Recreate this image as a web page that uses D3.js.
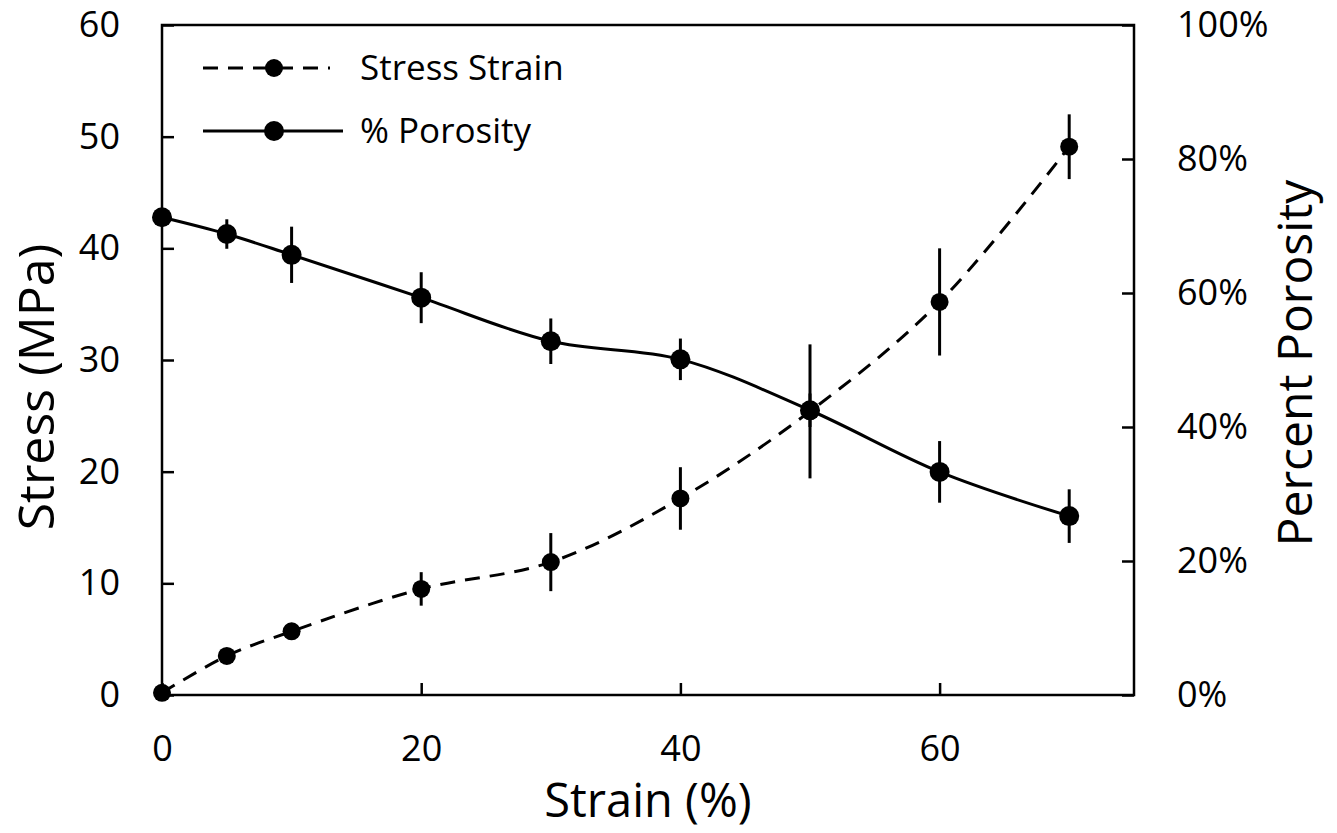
<!DOCTYPE html>
<html>
<head>
<meta charset="utf-8">
<script src="https://cdn.jsdelivr.net/npm/d3@7"></script>
<style>
  body { margin: 0; background: #fff; }
  text { font-family: "Open Sans", sans-serif; fill: #000; }
</style>
</head>
<body>
<div id="chart"></div>
<script>
// data
var strain = [0, 5, 10, 20, 30, 40, 50, 60, 70]
var stress = [0.2, 3.5, 5.7, 9.5, 11.9, 17.6, 25.4, 35.2, 49.1]
var stressErr = [0, 0, 0, 1.5, 2.6, 2.8, 6.0, 4.8, 2.9]
var porosity = [71.3, 68.8, 65.7, 59.3, 52.8, 50.1, 42.5, 33.3, 26.7]
var porosityErr = [0, 2.2, 4.2, 3.8, 3.4, 3.1, 2.5, 4.6, 4.0]

var xTicks = [0, 20, 40, 60]
var stressTicks = [0, 10, 20, 30, 40, 50, 60]
var porosityTicks = [0, 20, 40, 60, 80, 100]

var W = 1337, H = 833
var margin = {top: 25, right: 203, bottom: 138, left: 162}
var width = W - margin.left - margin.right,
    height = H - margin.top - margin.bottom

var svg = d3.select("#chart").append("svg")
    .attr("width", W)
    .attr("height", H)

var g = svg.append("g")
    .attr("transform", "translate(" + margin.left + "," + margin.top + ")")

var x = d3.scaleLinear().domain([0, 75]).range([0, width])
var y = d3.scaleLinear().domain([0, 60]).range([height, 0])
var y2 = d3.scaleLinear().domain([0, 100]).range([height, 0])

// axes, ticks pointing into the plot
var xAxis = g.append("g")
    .attr("transform", "translate(0," + height + ")")
    .call(d3.axisBottom(x).tickValues(xTicks).tickSizeInner(-12).tickSizeOuter(0).tickPadding(40))
var yAxis = g.append("g")
    .call(d3.axisLeft(y).tickValues(stressTicks).tickSizeInner(-12).tickSizeOuter(0).tickPadding(42))
var y2Axis = g.append("g")
    .attr("transform", "translate(" + width + ",0)")
    .call(d3.axisRight(y2).tickValues(porosityTicks).tickFormat(function(d) { return d + "%" })
        .tickSizeInner(-12).tickSizeOuter(0).tickPadding(43))

;[xAxis, yAxis, y2Axis].forEach(function(a) {
    a.select(".domain").remove()
    a.selectAll(".tick line").attr("stroke", "#000").attr("stroke-width", 2.5)
    a.selectAll(".tick text").style("font-size", "36px").attr("fill", "#000")
})
xAxis.selectAll(".tick text").attr("dy", "0.71em")

// plot frame
g.append("rect")
    .attr("width", width)
    .attr("height", height)
    .attr("fill", "none")
    .attr("stroke", "#000")
    .attr("stroke-width", 2.5)

// axis titles
svg.append("text")
    .attr("x", margin.left + x(37.5))
    .attr("y", 817)
    .attr("text-anchor", "middle")
    .style("font-size", "47px")
    .text("Strain (%)")

svg.append("text")
    .attr("transform", "translate(54,387) rotate(-90)")
    .attr("text-anchor", "middle")
    .style("font-size", "50px")
    .text("Stress (MPa)")

svg.append("text")
    .attr("transform", "translate(1312,363) rotate(-90)")
    .attr("text-anchor", "middle")
    .style("font-size", "48px")
    .text("Percent Porosity")

var pts = strain.map(function(s, i) {
    return {x: s, s: stress[i], se: stressErr[i], p: porosity[i], pe: porosityErr[i]}
})

var stressLine = d3.line()
    .x(function(d) { return x(d.x) })
    .y(function(d) { return y(d.s) })
    .curve(d3.curveCatmullRom.alpha(0.5))
var porosityLine = d3.line()
    .x(function(d) { return x(d.x) })
    .y(function(d) { return y2(d.p) })
    .curve(d3.curveCatmullRom.alpha(0.5))

// error bars
g.selectAll(".errS")
    .data(pts.filter(function(d) { return d.se > 0 }))
    .enter().append("line")
    .attr("x1", function(d) { return x(d.x) })
    .attr("x2", function(d) { return x(d.x) })
    .attr("y1", function(d) { return y(d.s - d.se) })
    .attr("y2", function(d) { return y(d.s + d.se) })
    .attr("stroke", "#000").attr("stroke-width", 3)

g.selectAll(".errP")
    .data(pts.filter(function(d) { return d.pe > 0 }))
    .enter().append("line")
    .attr("x1", function(d) { return x(d.x) })
    .attr("x2", function(d) { return x(d.x) })
    .attr("y1", function(d) { return y2(d.p - d.pe) })
    .attr("y2", function(d) { return y2(d.p + d.pe) })
    .attr("stroke", "#000").attr("stroke-width", 3)

// lines
g.append("path")
    .datum(pts)
    .attr("d", stressLine)
    .attr("fill", "none")
    .attr("stroke", "#000")
    .attr("stroke-width", 3)
    .attr("stroke-dasharray", "15,10")

g.append("path")
    .datum(pts)
    .attr("d", porosityLine)
    .attr("fill", "none")
    .attr("stroke", "#000")
    .attr("stroke-width", 3)

// markers
g.selectAll(".dotS")
    .data(pts)
    .enter().append("circle")
    .attr("cx", function(d) { return x(d.x) })
    .attr("cy", function(d) { return y(d.s) })
    .attr("r", 9)
    .attr("fill", "#000")

g.selectAll(".dotP")
    .data(pts)
    .enter().append("circle")
    .attr("cx", function(d) { return x(d.x) })
    .attr("cy", function(d) { return y2(d.p) })
    .attr("r", 10)
    .attr("fill", "#000")

// legend
var legend = svg.append("g")
var rows = [
    {label: "Stress Strain", dash: "15,10", x2: 330, r: 9, y: 68},
    {label: "% Porosity", dash: null, x2: 343, r: 10, y: 131}
]
rows.forEach(function(r) {
    legend.append("line")
        .attr("x1", 203).attr("x2", r.x2)
        .attr("y1", r.y).attr("y2", r.y)
        .attr("stroke", "#000").attr("stroke-width", 3)
        .attr("stroke-dasharray", r.dash)
    legend.append("circle")
        .attr("cx", 274).attr("cy", r.y).attr("r", r.r)
        .attr("fill", "#000")
    legend.append("text")
        .attr("x", 360).attr("y", r.y)
        .attr("dy", "0.35em")
        .style("font-size", "35px")
        .text(r.label)
})
</script>
</body>
</html>
